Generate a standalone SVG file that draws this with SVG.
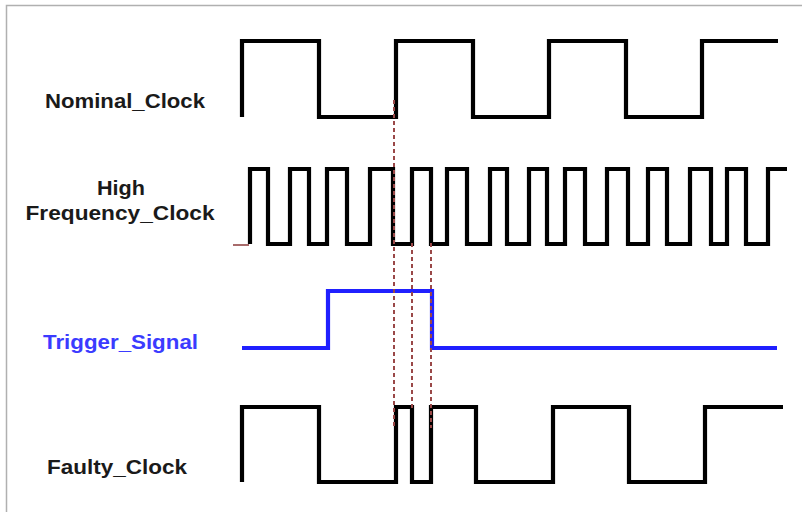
<svg xmlns="http://www.w3.org/2000/svg" width="802" height="512" viewBox="0 0 802 512">
  <style>
    .lbl { font-family: "Liberation Sans", Arial, sans-serif; font-weight: bold; font-size: 20.5px; fill: #1a1a1a; text-anchor: middle; }
    .blue { fill: #3b3bff; }
    .sig { fill: none; stroke: #000; stroke-width: 4.2; stroke-linejoin: miter; }
    .trig { fill: none; stroke: #2020ff; stroke-width: 4.2; }
    .guide { fill: none; stroke: #9a4848; stroke-width: 2; stroke-dasharray: 4 3; }
  </style>
  <rect x="0" y="0" width="802" height="512" fill="#ffffff"/>
  <rect x="6.5" y="5.5" width="900" height="600" fill="none" stroke="#b0b0b0" stroke-width="1.5"/>

  <g id="nominal_clock">
    <path class="sig" d="M242,117 V41 H319 V117 H396 V41 H473 V117 H549 V41 H626 V117 H702 V41 H778"/>
    <text class="lbl" x="125" y="108" textLength="160" lengthAdjust="spacingAndGlyphs">Nominal_Clock</text>
  </g>

  <g id="high_frequency_clock">
    <line x1="233" y1="245" x2="249" y2="245" stroke="#8b3a3a" stroke-width="1.5"/>
    <path class="sig" d="M250,244 V169 H268 V244 H290 V169 H309 V244 H327 V169 H347 V244 H370 V169 H393 V244 H412 V169 H431 V244 H447 V169 H467 V244 H490 V169 H507 V244 H529 V169 H547 V244 H565 V169 H585 V244 H607 V169 H628 V244 H648 V169 H667 V244 H690 V169 H711 V244 H727 V169 H746 V244 H768 V169 H787"/>
    <text class="lbl" x="121" y="195" textLength="48" lengthAdjust="spacingAndGlyphs">High</text>
    <text class="lbl" x="120" y="220" textLength="189" lengthAdjust="spacingAndGlyphs">Frequency_Clock</text>
  </g>

  <g id="trigger_signal">
    <path class="trig" d="M242,348 H328 V291 H432 V348 H777"/>
    <text class="lbl blue" x="120.5" y="349" textLength="155" lengthAdjust="spacingAndGlyphs">Trigger_Signal</text>
  </g>

  <g id="faulty_clock">
    <path class="sig" d="M242,482 V407 H319 V482 H396 V407 H412 V482 H431 V407 H476 V482 H553 V407 H629 V482 H705 V407 H783"/>
    <text class="lbl" x="117" y="474" textLength="140" lengthAdjust="spacingAndGlyphs">Faulty_Clock</text>
  </g>

  <g id="connectors">
    <line class="guide" x1="394" y1="100" x2="394" y2="428"/>
    <line class="guide" x1="412" y1="243" x2="412" y2="408"/>
    <line class="guide" x1="431" y1="243" x2="431" y2="428"/>
  </g>
</svg>
